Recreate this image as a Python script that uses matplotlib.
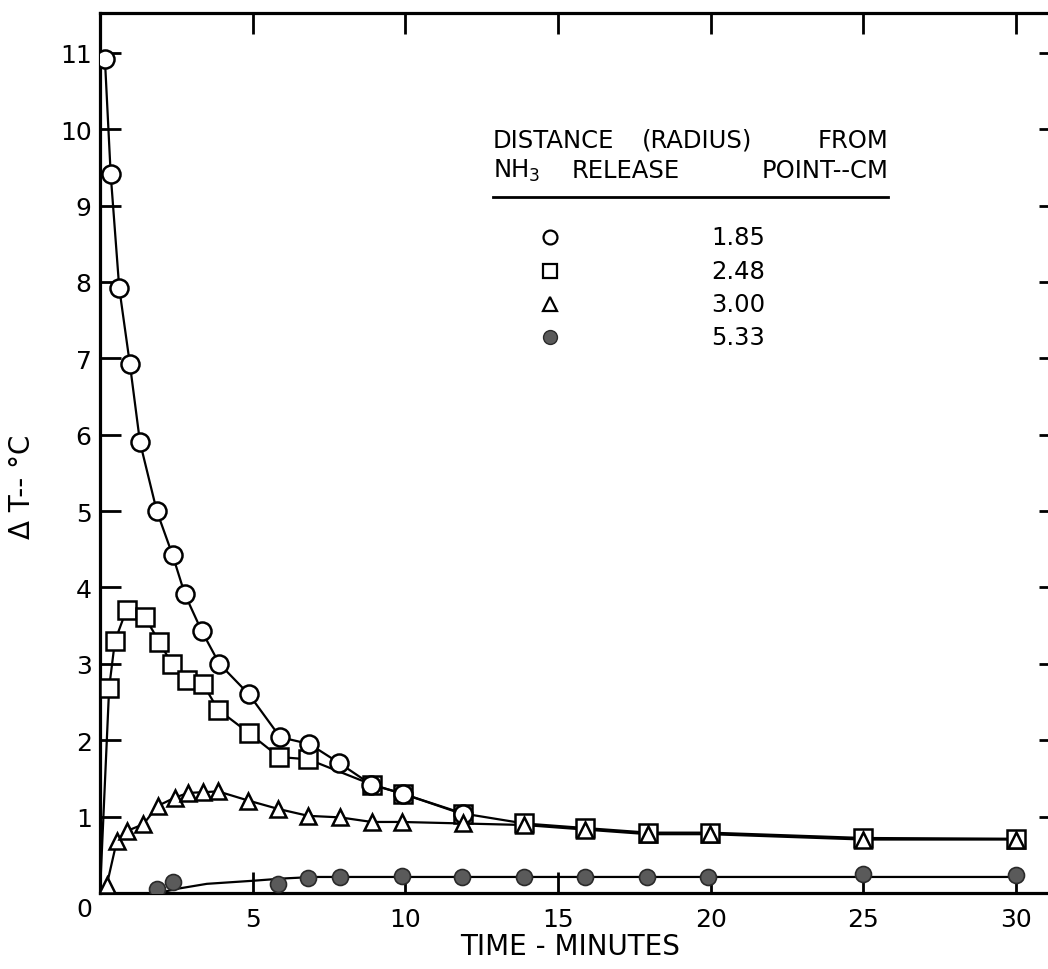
import matplotlib
matplotlib.use("Agg")
import matplotlib.pyplot as plt

plt.rcParams['font.family'] = ['DejaVu Sans']
plt.rcParams['mathtext.fontset'] = 'dejavusans'

# ---- data (time in minutes, delta T in deg C) ----
# r = 1.85 cm (open circles)
circ_t = [0.16, 0.35, 0.63, 0.98, 1.31, 1.86, 2.38, 2.78, 3.33, 3.91, 4.88,
          5.9, 6.86, 7.84, 8.88, 9.91, 11.9]
circ_v = [10.92, 9.41, 7.92, 6.92, 5.9, 5.0, 4.42, 3.91, 3.43, 3.0, 2.6,
          2.04, 1.95, 1.7, 1.42, 1.3, 1.03]

# r = 2.48 cm (open squares)
sq_t = [0.3, 0.49, 0.87, 1.47, 1.94, 2.35, 2.84, 3.38, 3.87, 4.89, 5.87,
        6.82, 8.9, 9.91, 11.9, 13.9, 15.9, 17.96, 19.98, 25.0, 30.0]
sq_v = [2.69, 3.3, 3.71, 3.61, 3.29, 3.0, 2.79, 2.73, 2.4, 2.09, 1.78,
        1.75, 1.42, 1.3, 1.04, 0.91, 0.85, 0.79, 0.79, 0.72, 0.71]

# r = 3.00 cm (open triangles)
tri_t = [0.22, 0.55, 0.87, 1.42, 1.89, 2.46, 2.89, 3.38, 3.87, 4.86, 5.84,
         6.82, 7.86, 8.9, 9.88, 11.9, 13.9, 15.9, 17.96, 19.98, 25.0, 30.0]
tri_v = [0.1, 0.68, 0.81, 0.9, 1.14, 1.25, 1.31, 1.32, 1.33, 1.21, 1.1,
         1.01, 0.99, 0.93, 0.93, 0.91, 0.89, 0.83, 0.77, 0.77, 0.70, 0.70]

# r = 5.33 cm (filled circles)
dot_t = [1.86, 2.4, 5.84, 6.82, 7.86, 9.88, 11.85, 13.9, 15.9, 17.9, 19.9,
         25.0, 30.0]
dot_v = [0.05, 0.14, 0.12, 0.2, 0.21, 0.22, 0.21, 0.21, 0.21, 0.21, 0.21,
         0.25, 0.23]

# hand-faired curves drawn through the points in the original
sq_curve_t = [0.0] + sq_t
sq_curve_v = [0.0] + sq_v
tri_curve_t = [0.0] + tri_t
tri_curve_v = [0.0] + tri_v
dot_curve_t = [1.9, 2.6, 3.5, 5.0, 6.0, 7.0, 10.0, 20.0, 30.0]
dot_curve_v = [0.0, 0.06, 0.12, 0.16, 0.19, 0.21, 0.21, 0.21, 0.21]

legend_labels = ['1.85', '2.48', '3.00', '5.33']
x_ticks = [5, 10, 15, 20, 25, 30]
y_ticks = list(range(1, 12))

W, H = 1048, 970
fig = plt.figure(figsize=(W / 100, H / 100), dpi=100)
ax = fig.add_axes([100 / W, 1 - 894 / H, 960 / W, 880 / H])
ax.set_xlim(0, 31.44)
ax.set_ylim(0, 11.52)

lw = 1.6
ax.plot(circ_t, circ_v, color='black', lw=lw, zorder=2)
ax.plot(sq_curve_t, sq_curve_v, color='black', lw=lw, zorder=2)
ax.plot(tri_curve_t, tri_curve_v, color='black', lw=lw, zorder=2)
ax.plot(dot_curve_t, dot_curve_v, color='black', lw=lw, zorder=2)

ax.plot(sq_t, sq_v, ls='none', marker='s', ms=13, mfc='white', mec='black', mew=1.8, zorder=3)
ax.plot(circ_t, circ_v, ls='none', marker='o', ms=13, mfc='white', mec='black', mew=1.8, zorder=4)
ax.plot(tri_t, tri_v, ls='none', marker='^', ms=12, mfc='white', mec='black', mew=1.8, zorder=5)
ax.plot(dot_t, dot_v, ls='none', marker='o', ms=11.5, mfc='#5a5a5a', mec='#2a2a2a', mew=1.2, zorder=5)

# axes styling
for s in ['left', 'top', 'bottom']:
    ax.spines[s].set_linewidth(2.3)
ax.spines['right'].set_visible(False)

ax.set_xticks(x_ticks)
ax.set_yticks(y_ticks)
ax.tick_params(direction='in', length=15, width=2, top=True, right=True,
               labelsize=18)
ax.tick_params(axis='x', pad=10)
ax.tick_params(axis='y', pad=6)
ax.annotate('0', xy=(0, 0), xytext=(-11.5, -11.5), textcoords='offset points',
            ha='center', va='center', fontsize=18)

fig.text(22 / W, 1 - 487 / H, 'Δ T-- °C', rotation=90, ha='center', va='center',
         fontsize=20)
fig.text(570 / W, 1 - 947 / H, 'TIME - MINUTES', ha='center', va='center',
         fontsize=20)

# legend block
fs = 17.5
def px(x):
    return (x - 100) / 960

def py(y):
    return (894 - y) / 880

hdr = [('DISTANCE', 493, 148, 'left'), ('(RADIUS)', 642, 148, 'left'),
       ('FROM', 888, 148, 'right'), ('NH$_3$', 493, 178, 'left'),
       ('RELEASE', 572, 178, 'left'), ('POINT--CM', 888, 178, 'right')]
for txt, xx, yy, ha in hdr:
    ax.text(px(xx), py(yy), txt, ha=ha, va='baseline', fontsize=fs,
            transform=ax.transAxes)
ax.plot([px(493), px(888)], [py(198), py(198)], color='black', lw=2,
        transform=ax.transAxes, clip_on=False)

key_styles = [
    dict(marker='o', ms=10, mfc='white', mec='black', mew=1.6),
    dict(marker='s', ms=10, mfc='white', mec='black', mew=1.6),
    dict(marker='^', ms=10, mfc='white', mec='black', mew=1.6),
    dict(marker='o', ms=10, mfc='#5a5a5a', mec='#2a2a2a', mew=1.0),
]
row_y = [238, 272, 305, 338]
for lab, sty, yy in zip(legend_labels, key_styles, row_y):
    ax.plot([px(550)], [py(yy)], ls='none', transform=ax.transAxes, **sty)
    ax.text(px(765), py(yy), lab, ha='right', va='center', fontsize=fs,
            transform=ax.transAxes)

fig.savefig('out.png', dpi=100)
